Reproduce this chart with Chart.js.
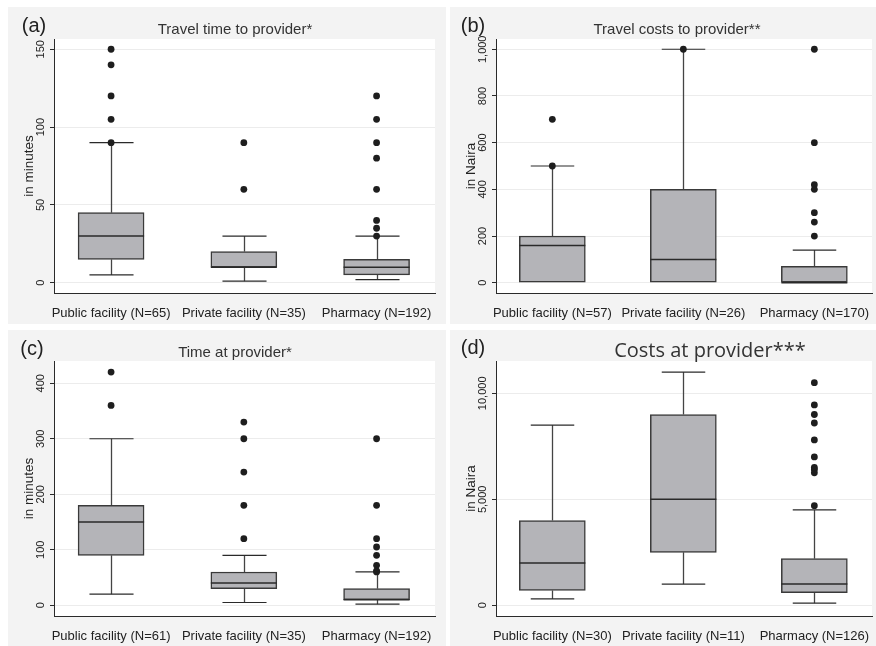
<!DOCTYPE html>
<html>
<head>
<meta charset="utf-8">
<script src="https://cdn.jsdelivr.net/npm/chart.js@4.4.1/dist/chart.umd.min.js"></script>
<style>
  body { margin: 0; background: #fff; width: 876px; height: 646px; position: relative; overflow: hidden;
         font-family: "Liberation Sans", Arial, sans-serif; color: #222; }
  .panel { position: absolute; background: #f3f3f3; }
  .panel canvas { position: absolute; left: 0; top: 0; }
  .lbl { position: absolute; transform: translate(-50%, -50%); white-space: nowrap; }
  .tag { font-size: 20px; }
  .ttl { font-size: 15px; color: #333; }
  .ttl.big { font-family: "Open Sans", sans-serif; font-size: 20px; }
</style>
</head>
<body>
<div class="panel" style="left:8px;top:7px;width:438px;height:317px"><canvas id="pa"></canvas></div>
<div class="panel" style="left:450px;top:7px;width:426px;height:317px"><canvas id="pb"></canvas></div>
<div class="panel" style="left:8px;top:330px;width:438px;height:316px"><canvas id="pc"></canvas></div>
<div class="panel" style="left:450px;top:330px;width:426px;height:316px"><canvas id="pd"></canvas></div>

<div class="lbl tag" style="left:34px;top:25px">(a)</div>
<div class="lbl tag" style="left:473px;top:25px">(b)</div>
<div class="lbl tag" style="left:32px;top:348px">(c)</div>
<div class="lbl tag" style="left:473px;top:347px">(d)</div>
<div class="lbl ttl" style="left:235px;top:28px">Travel time to provider*</div>
<div class="lbl ttl" style="left:677px;top:28px">Travel costs to provider**</div>
<div class="lbl ttl" style="left:235px;top:351px">Time at provider*</div>
<div class="lbl ttl big" style="left:710px;top:349px">Costs at provider***</div>

<script>
// (a) travel time, minutes
const labelsA = ['Public facility (N=65)', 'Private facility (N=35)', 'Pharmacy (N=192)'];
const lowA = [5, 1, 2];
const q1A = [15, 10, 5];
const medA = [30, 10, 10];
const q3A = [45, 20, 15];
const highA = [90, 30, 30];
const outA = [[150, 140, 120, 105, 90], [90, 60], [120, 105, 90, 80, 60, 40, 35, 30]];
const ticksA = [0, 50, 100, 150];

// (b) travel costs, Naira
const labelsB = ['Public facility (N=57)', 'Private facility (N=26)', 'Pharmacy (N=170)'];
const lowB = [0, 0, 0];
const q1B = [0, 0, 0];
const medB = [160, 100, 0];
const q3B = [200, 400, 70];
const highB = [500, 1000, 140];
const outB = [[700, 500], [1000], [1000, 600, 420, 400, 300, 260, 200]];
const ticksB = [0, 200, 400, 600, 800, 1000];

// (c) time at provider, minutes
const labelsC = ['Public facility (N=61)', 'Private facility (N=35)', 'Pharmacy (N=192)'];
const lowC = [20, 5, 2];
const q1C = [90, 30, 10];
const medC = [150, 40, 10];
const q3C = [180, 60, 30];
const highC = [300, 90, 60];
const outC = [[420, 360], [330, 300, 240, 180, 120], [300, 180, 120, 105, 90, 72, 62, 60]];
const ticksC = [0, 100, 200, 300, 400];

// (d) costs at provider, Naira
const labelsD = ['Public facility (N=30)', 'Private facility (N=11)', 'Pharmacy (N=126)'];
const lowD = [300, 1000, 100];
const q1D = [700, 2500, 600];
const medD = [2000, 5000, 1000];
const q3D = [4000, 9000, 2200];
const highD = [8500, 11000, 4500];
const outD = [[], [], [10500, 9450, 9000, 8600, 7800, 7000, 6500, 6400, 6250, 4700]];
const ticksD = [0, 5000, 10000];

const DARK = '#2a2a2a';

// white plot region, whiskers, medians and rotated y tick labels
const boxPlugin = {
  id: 'boxParts',
  beforeDraw(chart) {
    const { ctx, chartArea: a } = chart;
    ctx.save();
    ctx.fillStyle = '#fff';
    ctx.fillRect(a.left, a.top, a.right - a.left, a.bottom - a.top);
    ctx.restore();
  },
  beforeDatasetsDraw(chart, args, opts) {
    const { ctx, scales: { x, y } } = chart;
    ctx.save();
    opts.low.forEach((lo, i) => {
      const cx = Math.round(x.getPixelForValue(i + 1)) + 0.5;
      const half = x.getPixelForValue(i + 1 + 0.166) - x.getPixelForValue(i + 1);
      [[lo, opts.q1[i]], [opts.high[i], opts.q3[i]]].forEach(([end, edge]) => {
        if (end === edge) return;
        const ye = y.getPixelForValue(end);
        ctx.strokeStyle = '#444';
        ctx.lineWidth = 1.3;
        ctx.beginPath();
        ctx.moveTo(cx, ye);
        ctx.lineTo(cx, y.getPixelForValue(edge));
        ctx.stroke();
        ctx.strokeStyle = DARK;
        ctx.lineWidth = 1.2;
        ctx.beginPath();
        ctx.moveTo(cx - half, ye);
        ctx.lineTo(cx + half, ye);
        ctx.stroke();
      });
    });
    ctx.restore();
  },
  afterDatasetDraw(chart, args, opts) {
    if (args.index !== 0) return;
    const { ctx, scales: { y } } = chart;
    ctx.save();
    ctx.strokeStyle = DARK;
    ctx.lineWidth = 1.5;
    args.meta.data.forEach((bar, i) => {
      const ym = y.getPixelForValue(opts.med[i]);
      ctx.beginPath();
      ctx.moveTo(bar.x - bar.width / 2, ym);
      ctx.lineTo(bar.x + bar.width / 2, ym);
      ctx.stroke();
    });
    ctx.restore();
  },
  afterDraw(chart) {
    const { ctx, scales: { y } } = chart;
    ctx.save();
    ctx.fillStyle = '#222';
    ctx.font = '11px "Liberation Sans", Arial, sans-serif';
    ctx.textAlign = 'center';
    ctx.textBaseline = 'middle';
    y.ticks.forEach(t => {
      ctx.save();
      ctx.translate(y.right - 13, y.getPixelForValue(t.value));
      ctx.rotate(-Math.PI / 2);
      ctx.fillText(t.value.toLocaleString('en-US'), 0, 0);
      ctx.restore();
    });
    ctx.restore();
  }
};

function boxChart(id, labels, low, q1, med, q3, high, outliers, ticks, yMin, yMax, yTitle, rightPad, xAxisH, topPad) {
  const canvas = document.getElementById(id);
  const box = canvas.parentNode;
  canvas.width = box.clientWidth;
  canvas.height = box.clientHeight;
  return new Chart(canvas, {
    type: 'bar',
    data: {
      datasets: [
        {
          data: q1.map((v, i) => ({ x: i + 1, y: [v, q3[i]] })),
          backgroundColor: '#b4b4b8',
          borderColor: '#3a3a3a',
          borderWidth: 1.5,
          borderSkipped: false,
          barThickness: 66,
          order: 2
        },
        {
          type: 'scatter',
          data: outliers.flatMap((vals, i) => vals.map(v => ({ x: i + 1, y: v }))),
          backgroundColor: '#1e1e1e',
          borderWidth: 0,
          pointRadius: 3.4,
          order: 1
        }
      ]
    },
    options: {
      responsive: false,
      animation: false,
      events: [],
      layout: { padding: { top: topPad, right: rightPad, bottom: 0, left: 0 } },
      plugins: {
        legend: { display: false },
        tooltip: { enabled: false },
        boxParts: { low, q1, med, q3, high }
      },
      scales: {
        x: {
          type: 'linear',
          min: 0.57,
          max: 3.44,
          offset: false,
          afterBuildTicks: s => { s.ticks = [1, 2, 3].map(v => ({ value: v })); },
          afterFit: s => { s.height = xAxisH; },
          grid: { display: false, offset: false },
          border: { display: true, color: DARK, width: 1 },
          ticks: {
            autoSkip: false,
            maxRotation: 0,
            padding: 5,
            color: '#222',
            font: { size: 13, family: '"Liberation Sans", Arial, sans-serif' },
            callback: v => labels[v - 1]
          }
        },
        y: {
          min: yMin,
          max: yMax,
          afterBuildTicks: s => { s.ticks = ticks.map(v => ({ value: v })); },
          afterFit: s => { s.width = 46; },
          grid: { color: '#ececec', lineWidth: 1, tickLength: 4, tickColor: DARK },
          border: { display: true, color: DARK, width: 1 },
          ticks: { display: false },
          title: {
            display: true,
            text: yTitle,
            color: '#222',
            padding: { top: 13, bottom: 0 },
            font: { size: 13.5, family: '"Liberation Sans", Arial, sans-serif' }
          }
        }
      }
    },
    plugins: [boxPlugin]
  });
}

boxChart('pa', labelsA, lowA, q1A, medA, q3A, highA, outA, ticksA, -6.6, 156.6, 'in minutes', 11, 31, 32);
boxChart('pb', labelsB, lowB, q1B, medB, q3B, highB, outB, ticksB, -44, 1044, 'in Naira', 0, 31, 32);
boxChart('pc', labelsC, lowC, q1C, medC, q3C, highC, outC, ticksC, -19.3, 440, 'in minutes', 11, 30, 31);
boxChart('pd', labelsD, lowD, q1D, medD, q3D, highD, outD, ticksD, -505, 11524, 'in Naira', 0, 30, 31);
</script>
</body>
</html>
